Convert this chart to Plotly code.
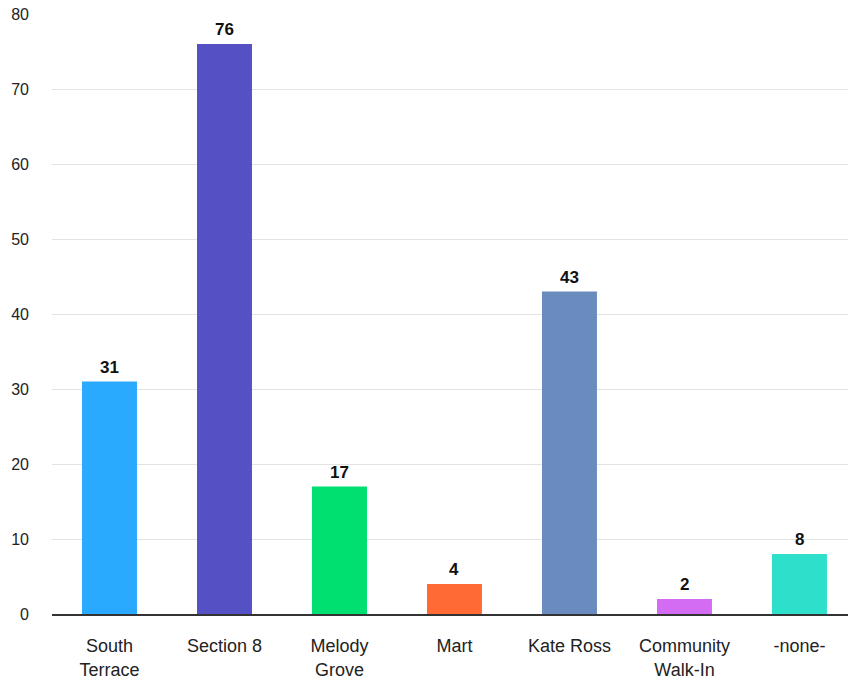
import plotly.graph_objects as go

# Bar chart of counts per location
categories = ["South<br>Terrace", "Section 8", "Melody<br>Grove", "Mart",
              "Kate Ross", "Community<br>Walk-In", "-none-"]
counts = [31, 76, 17, 4, 43, 2, 8]
bar_colors = ["#2aaaff", "#5551c4", "#00e070", "#ff6a35",
              "#6a8bbd", "#d36cf2", "#2ee0cc"]
y_ticks = [0, 10, 20, 30, 40, 50, 60, 70, 80]

FONT = "Liberation Sans, Arial, sans-serif"

fig = go.Figure()
fig.add_trace(go.Bar(
    x=list(range(len(categories))),
    y=counts,
    marker=dict(color=bar_colors, line=dict(width=0)),
    width=0.478,
    hoverinfo="skip",
))

# Value labels above each bar
for i, v in enumerate(counts):
    fig.add_annotation(
        x=i, y=v, text=f"<b>{v}</b>", showarrow=False,
        yanchor="bottom", yshift=3,
        font=dict(family=FONT, size=17, color="#111111"),
    )

fig.update_layout(
    width=848, height=683,
    margin=dict(l=52, r=0, t=14, b=69),
    plot_bgcolor="white", paper_bgcolor="white",
    showlegend=False,
    font=dict(family=FONT, color="#222222"),
    xaxis=dict(
        range=[-0.5, 6.422],
        tickmode="array",
        tickvals=list(range(len(categories))),
        ticktext=categories,
        tickfont=dict(size=18, color="#222222"),
        showgrid=False, zeroline=False,
        showline=True, linecolor="#333333", linewidth=1.5,
        ticks="", ticklabelstandoff=15,
    ),
    yaxis=dict(
        range=[0, 80],
        tickvals=y_ticks,
        tickfont=dict(size=16, color="#222222"),
        showgrid=True, gridcolor="#e3e3e3", gridwidth=1,
        zeroline=False, showline=False, ticks="",
        ticklabelstandoff=22,
    ),
)

fig.write_html("out.html")
